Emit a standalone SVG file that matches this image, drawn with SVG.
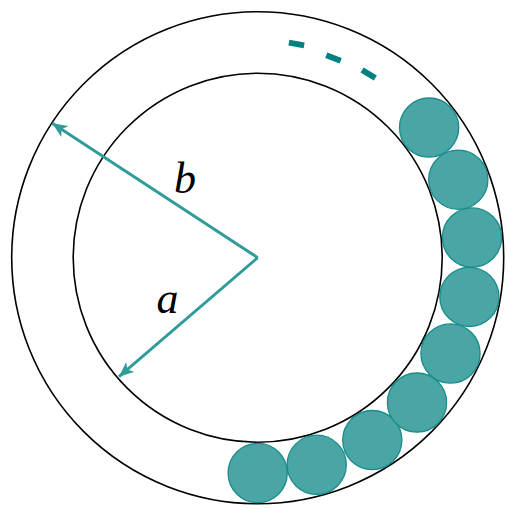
<svg xmlns="http://www.w3.org/2000/svg" width="515" height="515" viewBox="0 0 515 515">
<style>
.ring{fill:none;stroke:#000;stroke-width:1.6}
.ball{fill:#4aa6a5;stroke:#178c8a;stroke-width:1.3}
.dash{stroke:#008080;stroke-width:6;stroke-linecap:butt}
.arr{stroke:#2f9c9a;stroke-width:2.9;fill:none}
.lbl{font-family:"Liberation Serif",serif;font-style:italic;font-size:44px;fill:#000}
</style>
<defs>
<marker id="head" markerUnits="userSpaceOnUse" markerWidth="16" markerHeight="13" refX="15" refY="6.5" orient="auto">
<path d="M0,0 L15,6.5 L0,13 L4,6.5 z" fill="#2f9c9a"/>
</marker>
</defs>
<g id="outer"><circle class="ring" cx="257.7" cy="257.7" r="246"/></g>
<g id="inner"><circle class="ring" cx="257.7" cy="257.7" r="184.5"/></g>
<g id="balls">
<circle class="ball" cx="257.7" cy="473" r="29.6"/>
<circle class="ball" cx="316.7" cy="464.8" r="29.6"/>
<circle class="ball" cx="372.3" cy="440.1" r="29.6"/>
<circle class="ball" cx="417" cy="402.6" r="29.6"/>
<circle class="ball" cx="450.5" cy="353.5" r="29.6"/>
<circle class="ball" cx="469.4" cy="296.9" r="29.6"/>
<circle class="ball" cx="472" cy="237.5" r="29.6"/>
<circle class="ball" cx="458.3" cy="179.7" r="29.6"/>
<circle class="ball" cx="429.1" cy="127.6" r="29.6"/>
</g>
<g id="dots">
<line class="dash" x1="288.9" y1="42.6" x2="304.1" y2="45.4"/>
<line class="dash" x1="326.3" y1="55.3" x2="340.7" y2="60.7"/>
<line class="dash" x1="362.1" y1="70" x2="375.3" y2="78"/>
</g>
<g id="connectors">
<line class="arr" x1="257.7" y1="257.7" x2="52.3" y2="123.3" marker-end="url(#head)"/>
<line class="arr" x1="257.7" y1="257.7" x2="119" y2="376.7" marker-end="url(#head)"/>
</g>
<g id="labels">
<text class="lbl" x="185" y="193" text-anchor="middle">b</text>
<text class="lbl" x="167.5" y="313" text-anchor="middle">a</text>
</g>
</svg>
